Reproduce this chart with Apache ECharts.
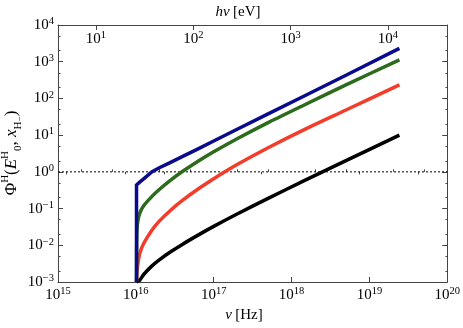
<!DOCTYPE html>
<html><head><meta charset="utf-8">
<script src="https://cdn.jsdelivr.net/npm/echarts@6/dist/echarts.min.js"></script>
<style>html,body{margin:0;padding:0;background:#fff}#c{width:463px;height:328px}</style>
</head><body><div id="c"></div>
<script>
// ---- data ----
const nuBlack  = [1.02e16, 1.12e16, 1.26e16, 1.6e16, 2e16, 2.8e16, 4e16, 6.3e16, 1e17, 2e17, 5e17, 1.5e18, 5e18, 2.43e19];
const phiBlack = [0.001, 0.00112, 0.0016, 0.00271, 0.00401, 0.00664, 0.01074, 0.0189, 0.0327, 0.0710, 0.189, 0.593, 2.02, 10.0];

const nuRed  = [1.02e16, 1.028e16, 1.05e16, 1.12e16, 1.26e16, 1.6e16, 2e16, 2.8e16, 4e16, 6.3e16, 1e17, 2e17, 5e17, 1.5e18, 5e18, 2.43e19];
const phiRed = [0.001, 0.00158, 0.00263, 0.00589, 0.0112, 0.0254, 0.0454, 0.0904, 0.169, 0.340, 0.650, 1.58, 4.54, 14.6, 48.4, 234];

const nuGreen  = [1.02e16, 1.022e16, 1.028e16, 1.05e16, 1.12e16, 1.26e16, 1.6e16, 2e16, 2.8e16, 4e16, 6.3e16, 1e17, 2e17, 5e17, 1.5e18, 5e18, 2.43e19];
const phiGreen = [0.001, 0.00316, 0.0158, 0.0398, 0.0741, 0.119, 0.212, 0.331, 0.596, 1.035, 1.95, 3.52, 7.98, 21.9, 68.5, 234, 1122];

const nuBlue  = [1.02e16, 1.02e16, 1.12e16, 1.26e16, 1.6e16, 2e16, 2.8e16, 4e16, 6.3e16, 1e17, 2e17, 5e17, 1.5e18, 5e18, 2.43e19];
const phiBlue = [0.001, 0.437, 0.525, 0.646, 1.0, 1.29, 1.82, 2.63, 4.22, 6.92, 14.5, 38.0, 120, 427, 2317];

const refLevel = 1;               // dotted horizontal line
const nuExps  = [15, 16, 17, 18, 19, 20];   // bottom tick labels 10^n Hz
const phiExps = [-3, -2, -1, 0, 1, 2, 3, 4]; // left tick labels
const eVExps  = [1, 2, 3, 4];               // top tick labels 10^n eV
const eVRange = [0.610, 4.610];             // top axis extent (log10 eV)

// ---- presentation ----
const FONT = 'Liberation Serif';
const AX = '#444';
const minorLog = (lo, hi) => { const r = []; for (let d = lo; d < hi; d++) { r.push(d + Math.log10(2), d + Math.log10(5)); } return r; };
const sup = n => String(n).replace('-', '\u2212');
const rich = {
  b: {fontFamily: FONT, fontSize: 15, color: '#000', lineHeight: 18},
  s: {fontFamily: FONT, fontSize: 10.5, color: '#000', lineHeight: 10, verticalAlign: 'top'}
};
const expLabel = e => '{b|10}{s|' + sup(e) + '}';
const zip = (a, b) => a.map((v, i) => [v, b[i]]);

const gridBox = {left: 58, right: 15, top: 25, bottom: 46};
const line = {show: true, lineStyle: {color: AX, width: 1}};
const curve = (nu, phi, color, smooth) => ({
  type: 'line', xAxisIndex: 0, yAxisIndex: 0, data: zip(nu, phi), symbol: 'none',
  smooth: smooth, lineStyle: {color: color, width: 3.5, cap: 'butt', join: 'miter'}
});

const option = {
  animation: false,
  backgroundColor: '#fff',
  grid: [Object.assign({}, gridBox), Object.assign({}, gridBox)],
  xAxis: [
    {gridIndex: 0, type: 'log', logBase: 10, min: 1e15, max: 1e20, splitNumber: 5, position: 'bottom',
     axisLine: line, splitLine: {show: false},
     axisTick: {inside: true, length: 5, lineStyle: {color: AX}},
     axisLabel: {margin: 4, formatter: v => expLabel(Math.round(Math.log10(v))), rich: rich}},
    {gridIndex: 0, type: 'value', min: eVRange[0], max: eVRange[1], position: 'top',
     axisLine: line, splitLine: {show: false},
     axisTick: {inside: true, length: 5, customValues: eVExps, lineStyle: {color: AX}},
     axisLabel: {inside: true, margin: 5, customValues: eVExps, formatter: v => expLabel(Math.round(v)), rich: rich}},
    {gridIndex: 1, type: 'value', min: nuExps[0], max: nuExps[nuExps.length - 1], position: 'bottom',
     axisLine: {show: false}, splitLine: {show: false}, axisLabel: {show: false},
     axisTick: {inside: true, length: 2.5, customValues: minorLog(15, 20), lineStyle: {color: AX}}},
    {gridIndex: 1, type: 'value', min: eVRange[0], max: eVRange[1], position: 'top',
     axisLine: {show: false}, splitLine: {show: false}, axisLabel: {show: false},
     axisTick: {inside: true, length: 2.5, customValues: minorLog(0, 5).filter(v => v > eVRange[0] && v < eVRange[1]), lineStyle: {color: AX}}}
  ],
  yAxis: [
    {gridIndex: 0, type: 'log', logBase: 10, min: 1e-3, max: 1e4, splitNumber: 7, position: 'left',
     axisLine: line, splitLine: {show: false},
     axisTick: {inside: true, length: 5, lineStyle: {color: AX}},
     axisLabel: {margin: 4, formatter: v => expLabel(Math.round(Math.log10(v))), rich: rich}},
    {gridIndex: 0, type: 'log', logBase: 10, min: 1e-3, max: 1e4, splitNumber: 7, position: 'right',
     axisLine: line, splitLine: {show: false}, axisLabel: {show: false},
     axisTick: {inside: true, length: 5, lineStyle: {color: AX}}},
    {gridIndex: 1, type: 'value', min: phiExps[0], max: phiExps[phiExps.length - 1], position: 'left',
     axisLine: {show: false}, splitLine: {show: false}, axisLabel: {show: false},
     axisTick: {inside: true, length: 2.5, customValues: minorLog(-3, 4), lineStyle: {color: AX}}},
    {gridIndex: 1, type: 'value', min: phiExps[0], max: phiExps[phiExps.length - 1], position: 'right',
     axisLine: {show: false}, splitLine: {show: false}, axisLabel: {show: false},
     axisTick: {inside: true, length: 2.5, customValues: minorLog(-3, 4), lineStyle: {color: AX}}}
  ],
  series: [
    {type: 'line', xAxisIndex: 0, yAxisIndex: 0, data: [[1e15, refLevel], [1e20, refLevel]], symbol: 'none',
     lineStyle: {color: '#000', width: 1, type: [2, 2]}, silent: true},
    curve(nuBlack, phiBlack, '#000000', 0.3),
    curve(nuRed, phiRed, '#f23d2b', 0.3),
    curve(nuGreen, phiGreen, '#2c6a1c', 0.3),
    curve(nuBlue, phiBlue, '#0a0a8c', false)
  ],
  graphic: [
    {type: 'text', x: 244, y: 315, style: {
      text: '{i|\u03bd} {r|[Hz]}', align: 'center', verticalAlign: 'middle',
      rich: {i: {fontFamily: FONT, fontStyle: 'italic', fontSize: 15}, r: {fontFamily: FONT, fontSize: 15}}}},
    {type: 'text', x: 238, y: 12, style: {
      text: '{i|h\u03bd} {r|[eV]}', align: 'center', verticalAlign: 'middle',
      rich: {i: {fontFamily: FONT, fontStyle: 'italic', fontSize: 15}, r: {fontFamily: FONT, fontSize: 15}}}},
    {type: 'text', x: 12, y: 153, rotation: Math.PI / 2, style: {
      text: '{r|\u03a6}{sp|H}{r|(}{i|E}{sp|H}{sb|0}{r|, }{i|x}{sb|H}{ssp|\u2212}{r|)}',
      align: 'center', verticalAlign: 'middle',
      rich: {
        r: {fontFamily: FONT, fontSize: 17, lineHeight: 24},
        i: {fontFamily: FONT, fontStyle: 'italic', fontSize: 17, lineHeight: 24},
        sp: {fontFamily: FONT, fontSize: 11, lineHeight: 13, verticalAlign: 'top'},
        sb: {fontFamily: FONT, fontSize: 11, lineHeight: 11, verticalAlign: 'bottom'},
        ssp: {fontFamily: FONT, fontSize: 9, lineHeight: 18, verticalAlign: 'bottom'}
      }}}
  ]
};
echarts.init(document.getElementById('c'), null, {renderer: 'canvas'}).setOption(option);
</script></body></html>
